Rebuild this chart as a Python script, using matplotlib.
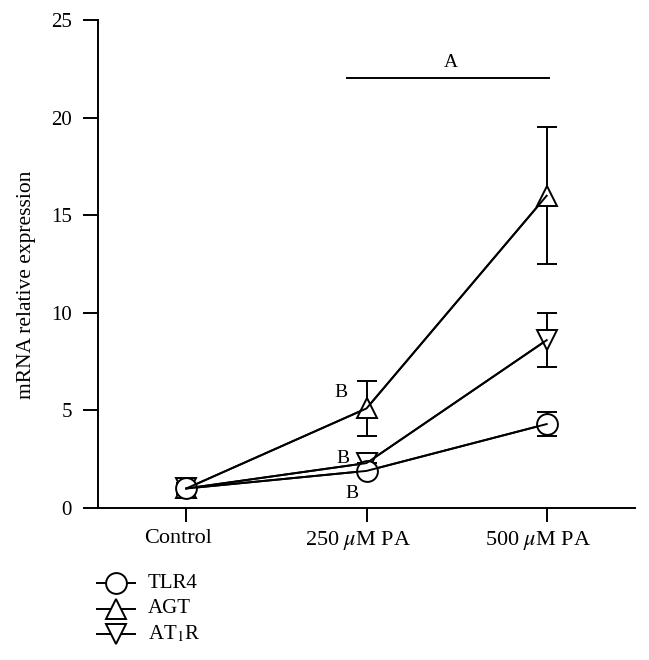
import matplotlib
matplotlib.use("Agg")
import matplotlib.pyplot as plt
from matplotlib.lines import Line2D
from matplotlib.transforms import ScaledTranslation

plt.rcParams['font.family'] = ['Liberation Serif', 'DejaVu Serif']
plt.rcParams['mathtext.fontset'] = 'stix'

categories = ["Control", "250 $\\mu$M PA", "500 $\\mu$M PA"]
tlr4 = [1.0, 1.9, 4.3]
tlr4_err = [0.3, 0.0, 0.6]
agt = [1.0, 5.1, 16.0]
agt_err = [0.3, 1.4, 3.5]
at1r = [1.0, 2.3, 8.6]
at1r_err = [0.3, 0.0, 1.4]
series_labels = ["TLR4", "AGT", "AT$_1$R"]
series_markers = ['o', '^', 'v']
yticks = [0, 5, 10, 15, 20, 25]

fig = plt.figure(figsize=(6.49, 6.60), dpi=100)
ax = fig.add_axes([98/649, 1-508/660, (635-98)/649, (508-20)/660])

LW = 1.4
x = list(range(len(categories)))
common = dict(color='black', lw=LW, capsize=7, capthick=LW, elinewidth=LW,
              markerfacecolor='white', markeredgecolor='black', markeredgewidth=LW)
ax.errorbar(x, agt, yerr=agt_err, marker='^', ms=15, **common)
ax.errorbar(x, at1r, yerr=at1r_err, marker='v', ms=15, **common)
ax.errorbar(x, tlr4, yerr=tlr4_err, marker='o', ms=15, **common)
ax.plot(x, agt, color='black', lw=LW, zorder=5)
ax.plot(x, at1r, color='black', lw=LW, zorder=5)
ax.plot(x, tlr4, color='black', lw=LW, zorder=5)

ax.set_xlim(-0.49, 2.49)
ax.set_ylim(0, 25)
ax.set_yticks(yticks)
ax.set_xticks(x)
ax.set_xticklabels(categories)
ax.tick_params(axis='y', labelsize=15, length=10.8, width=LW, pad=8)
ax.tick_params(axis='x', labelsize=16, length=10.2, width=LW, pad=5)
shift = ScaledTranslation(-6/72, 0, fig.dpi_scale_trans)
for lbl in ax.get_xticklabels():
    lbl.set_transform(lbl.get_transform() + shift)
for s in ['top', 'right']:
    ax.spines[s].set_visible(False)
for s in ['left', 'bottom']:
    ax.spines[s].set_linewidth(LW)
ax.set_ylabel("mRNA relative expression", fontsize=15.5, va='center')
ax.yaxis.set_label_coords(-0.134, 0.457)

# significance annotations
ax.plot([0.89, 2.01], [22.04, 22.04], color='black', lw=LW, clip_on=False)
ax.text(1.47, 22.8, "A", ha='center', va='center', fontsize=14)
ax.text(0.861, 5.94, "B", ha='center', va='center', fontsize=14)
ax.text(0.872, 2.56, "B", ha='center', va='center', fontsize=14)
ax.text(0.92, 0.72, "B", ha='center', va='center', fontsize=14)

# legend (manual, below axes)
W, H = 649, 660
for i, (m, lab) in enumerate(zip(series_markers, series_labels)):
    yy = (H - 583 - 25.5 * i) / H
    fig.add_artist(Line2D([97/W, 135/W], [yy, yy], color='black', lw=LW,
                          transform=fig.transFigure))
    fig.add_artist(Line2D([116/W], [yy], marker=m, ms=15, markerfacecolor='white',
                          markeredgecolor='black', markeredgewidth=LW, lw=0,
                          transform=fig.transFigure))
    fig.text(148/W, yy, lab, ha='left', va='center', fontsize=15)

fig.savefig("out.png", dpi=100)
